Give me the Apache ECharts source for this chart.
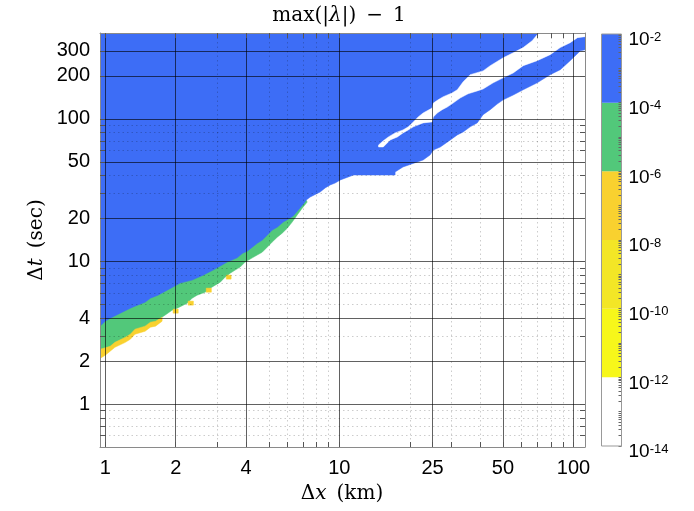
<!DOCTYPE html>
<html>
<head>
<meta charset="utf-8">
<script src="https://cdn.jsdelivr.net/npm/echarts@6/dist/echarts.min.js"></script>
<style>html,body{margin:0;padding:0;background:#fff}#c{width:694px;height:511px}</style>
</head>
<body>
<div id="c"></div>
<script>
// ---------- axis ranges & ticks ----------
const xRange = [0.95, 112];
const yRange = [0.5, 400];
const xMajorTicks = [1, 2, 4, 10, 25, 50, 100];
const xMinorTicks = [3, 5, 6, 7, 8, 9, 20, 30, 40, 60, 70, 80, 90];
const yMajorTicks = [1, 2, 4, 10, 20, 50, 100, 200, 300];
const yMinorTicks = [0.6, 0.7, 0.8, 0.9, 3, 5, 6, 7, 8, 9, 30, 40, 60, 70, 80, 90];

// ---------- colorbar ----------
const cbEdges = [1e-14, 1e-12, 1e-10, 1e-8, 1e-6, 1e-4, 1e-2];
const cbColors = ['#ffffff', '#f7f71a', '#f3e626', '#f9d12f', '#52c87a', '#3d6df6'];
const cbLabelValues = [1e-14, 1e-12, 1e-10, 1e-8, 1e-6, 1e-4, 1e-2];
const cbDecades = [-14, -13, -12, -11, -10, -9, -8, -7, -6, -5, -4, -3];
const cbMultipliers = [1, 2, 3, 4, 5, 6, 7, 8, 9];

// ---------- regions of max(|lambda|)-1 (Δx km, Δt sec) ----------
// lower boundary of the blue (1e-4..1e-2) region, then closed along the top
const bluePolygon = [[0.95,3.52],[1.00,3.81],[1.05,4.00],[1.16,4.34],[1.28,4.70],[1.34,4.86],[1.48,5.18],[1.56,5.53],[1.68,5.80],[1.84,6.29],[2.09,7.05],[2.35,7.40],[2.62,8.02],[2.89,8.70],[3.10,9.28],[3.32,9.90],[3.66,10.6],[3.86,11.4],[4.04,11.8],[4.25,12.6],[4.46,13.4],[4.68,14.1],[4.92,15.3],[5.17,16.6],[5.43,17.4],[5.76,18.9],[6.05,19.8],[6.35,20.8],[6.67,22.9],[7.02,25.3],[7.23,27.0],[7.51,28.3],[8.28,30.7],[8.70,32.8],[9.14,34.4],[9.60,35.5],[10.1,37.3],[11.5,40.4],[17.3,40.4],[17.3,42.4],[18.7,46.0],[22.8,51.5],[24.4,55.8],[25.2,60.5],[27.0,63.5],[29.8,71.2],[31.9,77.2],[33.8,81.0],[36.2,87.9],[38.8,93.7],[41.1,107],[44.1,116],[47.2,127],[50.1,136],[55.3,147],[61.0,160],[70.0,179],[79.5,204],[87.8,221],[96.8,256],[107,300],[112,305],[112,400],[0.95,400]];
// green (1e-6..1e-4) band: lower boundary, closed inside the blue region
const greenPolygon = [[0.95,2.38],[1.05,2.50],[1.10,2.67],[1.22,2.89],[1.28,3.04],[1.34,3.29],[1.48,3.46],[1.56,3.69],[1.64,3.75],[1.72,4.00],[1.80,4.20],[1.93,4.55],[2.03,4.70],[2.24,5.10],[2.35,5.53],[2.47,5.80],[2.67,6.09],[2.81,6.50],[2.95,6.82],[3.10,7.16],[3.25,7.76],[3.42,8.28],[3.59,8.70],[3.77,9.13],[3.96,9.90],[4.25,10.6],[4.46,11.1],[4.68,11.6],[4.92,12.6],[5.17,13.7],[5.43,14.8],[5.70,15.8],[5.99,17.1],[6.29,18.9],[6.61,21.2],[6.95,23.7],[7.29,26.1],[6.80,31.7],[0.95,5.35]];
// gold (1e-8..1e-6) strip under the green band
const goldPolygon = [[0.95,2.42],[1.05,2.54],[1.10,2.71],[1.22,2.94],[1.28,3.09],[1.34,3.35],[1.48,3.52],[1.56,3.75],[1.64,3.81],[1.75,4.06],[1.75,3.81],[1.64,3.52],[1.56,3.46],[1.48,3.24],[1.34,3.09],[1.28,2.85],[1.22,2.71],[1.10,2.50],[1.05,2.35],[1.00,2.20],[0.95,2.09]];
// isolated gold cells [x0, x1, t0, t1]
const goldCells = [[1.95,2.05,4.34,4.63],[2.26,2.38,4.94,5.27],[2.70,2.84,6.09,6.50],[3.29,3.45,7.52,8.02]];
// white (<1e-12) stripe cutting through the blue region
const stripePolygon = [[14.7,65.6],[15.4,70.1],[16.2,74.7],[17.3,79.7],[18.7,83.7],[19.7,87.9],[20.7,95.2],[21.7,103],[22.8,110],[24.9,119],[25.2,129],[26.4,136],[27.8,143],[30.3,152],[31.9,160],[33.8,182],[36.2,204],[41.1,217],[44.1,236],[50.1,268],[55.3,291],[61.0,316],[66.6,353],[70.0,389],[72.1,400],[112,400],[112,377],[104,371],[96.8,342],[87.8,316],[79.5,282],[70.0,256],[61.0,236],[55.3,210],[50.1,194],[45.4,179],[41.1,162],[38.8,157],[35.5,150],[32.8,140],[30.6,129],[28.9,121],[27.5,116],[26.2,110],[25.2,103],[24.9,95.2],[22.8,93.7],[20.7,87.9],[19.7,83.7],[18.7,79.7],[17.7,74.7],[16.5,71.2],[15.4,63.5],[14.7,63.5]];

const COL = {blue: cbColors[5], green: cbColors[4], gold: cbColors[3], white: '#ffffff'};

const regions = [
  {pts: greenPolygon, color: COL.green},
  {pts: goldPolygon, color: COL.gold}
].concat(goldCells.map(c => ({pts: [[c[0], c[2]], [c[1], c[2]], [c[1], c[3]], [c[0], c[3]]], color: COL.gold})))
 .concat([{pts: bluePolygon, color: COL.blue}, {pts: stripePolygon, color: COL.white}]);

const cbTicks = [];
cbDecades.forEach(d => cbMultipliers.forEach(m => cbTicks.push(m * Math.pow(10, d))));
cbTicks.push(1e-2);

const SANS = 'Liberation Sans, Arial, Helvetica, sans-serif';
const SERIF = 'DejaVu Serif, serif';
const MAJOR_GRID = 'rgba(0,0,0,0.62)';
const MINOR_GRID = 'rgba(0,0,0,0.2)';
const FRAME = '#8a8a8a';
const fmtNum = v => String(Math.round(v * 100) / 100);

function ax(extra, range) {
  return Object.assign({
    gridIndex: 0, type: 'log', logBase: 10, min: range[0], max: range[1], z: 5,
    axisLine: {show: false, onZero: false},
    axisTick: {show: false},
    axisLabel: {show: false},
    splitLine: {show: false}
  }, extra);
}
const frameLine = {show: true, onZero: false, lineStyle: {color: FRAME, width: 1}};

const xAxes = [
  ax({position: 'bottom', axisLine: frameLine,
      axisTick: {show: true, inside: true, length: 5, customValues: xMajorTicks.concat(xMinorTicks), lineStyle: {color: '#555'}},
      axisLabel: {show: true, customValues: xMajorTicks, margin: 11, fontSize: 20, color: '#000', fontFamily: SANS, formatter: fmtNum}}, xRange),
  ax({position: 'top', axisLine: frameLine,
      axisTick: {show: true, inside: true, length: 5, customValues: xMajorTicks.concat(xMinorTicks), lineStyle: {color: '#555'}}}, xRange),
  ax({position: 'bottom', z: 5, axisTick: {show: false, customValues: xMajorTicks},
      splitLine: {show: true, lineStyle: {color: MAJOR_GRID, width: 1}}}, xRange),
  ax({position: 'bottom', z: 4, axisTick: {show: false, customValues: xMinorTicks},
      splitLine: {show: true, lineStyle: {color: MINOR_GRID, width: 1, type: [1.5, 3]}}}, xRange),
  {gridIndex: 1, type: 'value', min: 0, max: 1, show: false}
];
const yAxes = [
  ax({position: 'left', axisLine: frameLine,
      axisTick: {show: true, inside: true, length: 5, customValues: yMajorTicks.concat(yMinorTicks), lineStyle: {color: '#555'}},
      axisLabel: {show: true, customValues: yMajorTicks, margin: 10, fontSize: 20, color: '#000', fontFamily: SANS, formatter: fmtNum}}, yRange),
  ax({position: 'right', axisLine: frameLine,
      axisTick: {show: true, inside: true, length: 5, customValues: yMajorTicks.concat(yMinorTicks), lineStyle: {color: '#555'}}}, yRange),
  ax({position: 'left', z: 5, axisTick: {show: false, customValues: yMajorTicks},
      splitLine: {show: true, lineStyle: {color: MAJOR_GRID, width: 1}}}, yRange),
  ax({position: 'left', z: 4, axisTick: {show: false, customValues: yMinorTicks},
      splitLine: {show: true, lineStyle: {color: MINOR_GRID, width: 1, type: [1.5, 3]}}}, yRange),
  {gridIndex: 1, type: 'log', logBase: 10, position: 'right', min: cbEdges[0], max: cbEdges[cbEdges.length - 1], z: 5,
   axisLine: {show: false, onZero: false},
   axisTick: {show: true, inside: true, length: 3, customValues: cbTicks, lineStyle: {color: '#666'}},
   axisLabel: {show: true, customValues: cbLabelValues, margin: 7, color: '#000',
     formatter: v => '{b|10}{s|' + Math.round(Math.log10(v)) + '}',
     rich: {
       b: {fontSize: 19, fontFamily: SANS, color: '#000', lineHeight: 19, padding: [12, 0, 0, 0]},
       s: {fontSize: 13, fontFamily: SANS, color: '#000', lineHeight: 13, padding: [6, 0, 0, 0], verticalAlign: 'top'}
     }},
   splitLine: {show: false}}
];

const serifRich = size => ({
  n: {fontSize: size, fontFamily: SERIF, fill: '#000'},
  i: {fontSize: size, fontFamily: SERIF, fontStyle: 'italic', fill: '#000'}
});

const option = {
  animation: false,
  backgroundColor: '#ffffff',
  grid: [
    {left: 100, top: 33, width: 485, height: 414, show: false},
    {left: 601.5, top: 34, width: 20, height: 412, show: true, z: 10, borderColor: '#999', borderWidth: 1, backgroundColor: 'transparent'}
  ],
  xAxis: xAxes,
  yAxis: yAxes,
  series: [
    {
      type: 'custom', name: 'regions', xAxisIndex: 0, yAxisIndex: 0, z: 1, clip: true,
      data: regions.map(r => r.pts[0]),
      renderItem: function (params, api) {
        const r = regions[params.dataIndex];
        return {
          type: 'polygon', z2: params.dataIndex,
          shape: {points: r.pts.map(p => api.coord(p))},
          style: {fill: r.color, stroke: r.color, lineWidth: 0.5}
        };
      }
    },
    {
      type: 'custom', name: 'colorbar', xAxisIndex: 4, yAxisIndex: 4, z: 1,
      data: cbColors.map((c, i) => [0.5, cbEdges[i]]),
      renderItem: function (params, api) {
        const i = params.dataIndex;
        const p0 = api.coord([0, cbEdges[i]]);
        const p1 = api.coord([1, cbEdges[i + 1]]);
        return {
          type: 'rect',
          shape: {x: p0[0], y: p1[1], width: p1[0] - p0[0], height: p0[1] - p1[1]},
          style: {fill: cbColors[i]}
        };
      }
    }
  ],
  graphic: [
    {type: 'text', x: 339, y: 15.5, z: 20,
     style: {text: '{n|max(|}{i|λ}{n||)\u2002−\u20021}', align: 'center', verticalAlign: 'middle', rich: serifRich(20)}},
    {type: 'text', x: 342, y: 494, z: 20,
     style: {text: '{n|Δ}{i|x}{n|\u2002(km)}', align: 'center', verticalAlign: 'middle', rich: serifRich(20)}},
    {type: 'text', x: 37, y: 240, z: 20, rotation: Math.PI / 2,
     style: {text: '{n|Δ}{i|t}{n|\u2002(sec)}', align: 'center', verticalAlign: 'middle', rich: serifRich(20)}}
  ]
};

const chart = echarts.init(document.getElementById('c'), null, {renderer: 'canvas', width: 694, height: 511});
chart.setOption(option);
</script>
</body>
</html>
